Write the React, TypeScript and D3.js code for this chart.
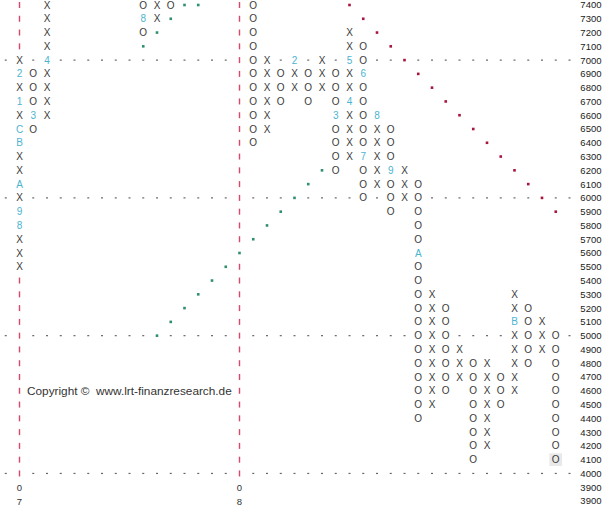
import React from "react";
import * as d3 from "d3";

// Point & Figure columns: [column index, type, low box, high box]
const columnsData: [number, "X" | "O", number, number][] = [
  [0, "X", 5500, 7000],
  [1, "O", 6500, 6900],
  [2, "X", 6600, 7400],
  [9, "O", 7200, 7400],
  [10, "X", 7300, 7400],
  [11, "O", 7400, 7400],
  [17, "O", 6400, 7400],
  [18, "X", 6500, 7000],
  [19, "O", 6700, 6900],
  [20, "X", 6800, 7000],
  [21, "O", 6700, 6900],
  [22, "X", 6800, 7000],
  [23, "O", 6200, 6900],
  [24, "X", 6300, 7200],
  [25, "O", 6000, 7100],
  [26, "X", 6100, 6600],
  [27, "O", 5900, 6500],
  [28, "X", 6000, 6200],
  [29, "O", 4400, 6100],
  [30, "X", 4500, 5300],
  [31, "O", 4600, 5200],
  [32, "X", 4700, 4900],
  [33, "O", 4100, 4800],
  [34, "X", 4200, 4800],
  [35, "O", 4500, 4700],
  [36, "X", 4600, 5300],
  [37, "O", 4800, 5200],
  [38, "X", 4900, 5100],
  [39, "O", 4100, 5000],
];

// month markers replacing a box: [column, price, label]
const monthMarkers: [number, number, string][] = [
  [0, 5800, "8"], [0, 5900, "9"], [0, 6100, "A"], [0, 6400, "B"], [0, 6500, "C"],
  [0, 6700, "1"], [0, 6900, "2"], [1, 6600, "3"], [2, 7000, "4"], [9, 7300, "8"],
  [20, 7000, "2"], [23, 6600, "3"], [24, 6700, "4"], [24, 7000, "5"],
  [25, 6900, "6"], [25, 6300, "7"], [26, 6600, "8"], [27, 6200, "9"],
  [29, 5600, "A"], [36, 5100, "B"],
];

// trend lines (column, price)
const supportUpper: [number, number][] = [
  [9, 7100], [10, 7200], [11, 7300], [12, 7400], [13, 7400],
];
const supportLower: [number, number][] = [
  [10, 5000], [11, 5100], [12, 5200], [13, 5300], [14, 5400], [15, 5500], [16, 5600],
  [17, 5700], [18, 5800], [19, 5900], [20, 6000], [21, 6100], [22, 6200],
];
const resistance: [number, number][] = [
  [24, 7400], [25, 7300], [26, 7200], [27, 7100], [28, 7000], [29, 6900], [30, 6800],
  [31, 6700], [32, 6600], [33, 6500], [34, 6400], [35, 6300], [36, 6200], [37, 6100],
  [38, 6000], [39, 5900],
];

// year separators: [column, year digits]
const yearLines: [number, string, string][] = [
  [0, "0", "7"],
  [16, "0", "8"],
];

const dottedLevels = [7000, 6000, 5000, 4000];
const priceTicks = [
  7400, 7300, 7200, 7100, 7000, 6900, 6800, 6700, 6600, 6500, 6400, 6300, 6200, 6100,
  6000, 5900, 5800, 5700, 5600, 5500, 5400, 5300, 5200, 5100, 5000, 4900, 4800, 4700,
  4600, 4500, 4400, 4300, 4200, 4100, 4000, 3900,
];
const extraTickLabels = [[3800, "3900"]] as [number, string][];
const currentBox: [number, number] = [39, 4100];
const copyright = "Copyright \u00A9  www.lrt-finanzresearch.de";

const W = 610;
const H = 508;
const BOX = 100;

export default function App() {
  const x = d3.scaleLinear().domain([-1, 40]).range([5.75, 569.5]);
  const y = d3.scaleLinear().domain([3800, 7400]).range([501, 5]);
  const cellW = x(1) - x(0);
  const cellH = y(0) - y(BOX);

  const occupied = new Set<string>();
  const key = (c: number, p: number) => `${c}_${p}`;

  const markerMap = new Map<string, string>();
  monthMarkers.forEach(([c, p, l]) => markerMap.set(key(c, p), l));

  const symbols: { c: number; p: number; t: string; month: boolean }[] = [];
  columnsData.forEach(([c, t, lo, hi]) => {
    d3.range(lo, hi + 1, BOX).forEach((p) => {
      const k = key(c, p);
      occupied.add(k);
      const m = markerMap.get(k);
      symbols.push({ c, p, t: m ?? t, month: m !== undefined });
    });
  });
  monthMarkers.forEach(([c, p]) => occupied.add(key(c, p)));

  const greenDots = [...supportUpper, ...supportLower];
  greenDots.forEach(([c, p]) => occupied.add(key(c, p)));
  resistance.forEach(([c, p]) => occupied.add(key(c, p)));

  const yearDashes: { c: number; p: number }[] = [];
  yearLines.forEach(([c]) => {
    d3.range(4000, 7401, BOX).forEach((p) => {
      if (!occupied.has(key(c, p))) {
        yearDashes.push({ c, p });
        occupied.add(key(c, p));
      }
    });
  });

  const dots: { c: number; p: number }[] = [];
  dottedLevels.forEach((p) => {
    d3.range(-1, 41).forEach((c) => {
      if (!occupied.has(key(c, p))) dots.push({ c, p });
    });
  });

  const symFont = "'Liberation Sans', Arial, sans-serif";

  return (
    <div style={{ position: "fixed", left: 0, top: 0, width: W, height: H, background: "#fff" }}>
      <svg width={W} height={H} style={{ display: "block" }}>
        <rect x={0} y={0} width={W} height={H} fill="#fff" />
        {/* current box highlight */}
        <rect
          x={x(currentBox[0]) - cellW / 2 + 0.5}
          y={y(currentBox[1]) - cellH / 2 + 0.5}
          width={cellW - 1}
          height={cellH - 1}
          fill="#e9e9e9"
        />
        {/* dotted level lines */}
        {dots.map((d, i) => (
          <rect key={"d" + i} x={x(d.c) - 1} y={y(d.p) - 0.6} width={2} height={1.2} fill="#666" />
        ))}
        {/* year separator dashes */}
        {yearDashes.map((d, i) => (
          <rect key={"yd" + i} x={x(d.c) - 0.7} y={y(d.p) - 3} width={1.4} height={6} fill="#d8486a" />
        ))}
        {/* trend lines */}
        {greenDots.map(([c, p], i) => (
          <rect key={"g" + i} x={x(c) - 1.3} y={y(p) - 1.3} width={2.6} height={2.6} fill="#2f8f6f" />
        ))}
        {resistance.map(([c, p], i) => (
          <rect key={"r" + i} x={x(c) - 1.3} y={y(p) - 1.3} width={2.6} height={2.6} fill="#a8143e" />
        ))}
        {/* X / O symbols and month markers */}
        {symbols.map((s, i) => (
          <text
            key={"s" + i}
            x={x(s.c)}
            y={y(s.p) + 3.6}
            textAnchor="middle"
            fontFamily={symFont}
            fontSize={10}
            fill={s.month ? "#4cb4d0" : "#3a3a3a"}
          >
            {s.t}
          </text>
        ))}
        {/* year labels */}
        {yearLines.map(([c, a, b], i) => (
          <g key={"yl" + i}>
            <text x={x(c)} y={y(3900) + 3.5} textAnchor="middle" fontFamily={symFont} fontSize={9.5} fill="#333">
              {a}
            </text>
            <text x={x(c)} y={y(3800) + 3.5} textAnchor="middle" fontFamily={symFont} fontSize={9.5} fill="#333">
              {b}
            </text>
          </g>
        ))}
        {/* price axis */}
        {priceTicks.map((p) => (
          <text key={"t" + p} x={601.5} y={y(p) + 3.4} textAnchor="end" fontFamily={symFont} fontSize={9.5} fill="#222">
            {p}
          </text>
        ))}
        {extraTickLabels.map(([p, l]) => (
          <text key={"te" + p} x={601.5} y={y(p) + 3.4} textAnchor="end" fontFamily={symFont} fontSize={9.5} fill="#222">
            {l}
          </text>
        ))}
        {/* copyright */}
        <text
          x={27}
          y={y(4600) + 3.9}
          fontFamily={symFont}
          fontSize={11.8}
          fill="#333"
          style={{ whiteSpace: "pre" }}
        >
          {copyright}
        </text>
      </svg>
    </div>
  );
}
